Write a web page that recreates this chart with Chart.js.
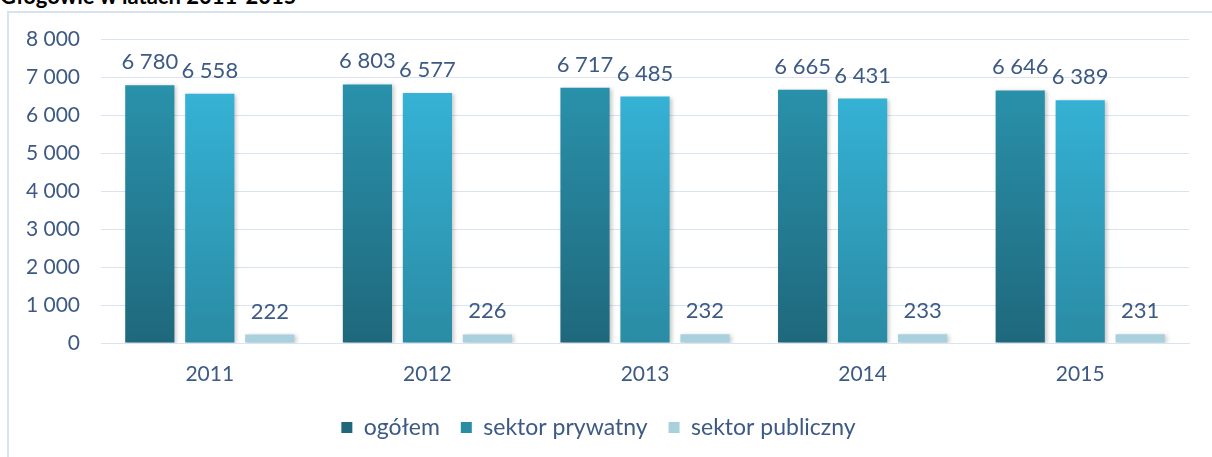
<!DOCTYPE html>
<html>
<head>
<meta charset="utf-8">
<script src="https://cdn.jsdelivr.net/npm/chart.js@4"></script>
<style>
  html, body { margin: 0; padding: 0; background: #fff; overflow: hidden; }
  body { width: 1212px; height: 457px; position: relative; }
  .title { position: absolute; left: 0; top: -15px; font: bold 22px Lato, sans-serif; line-height: 21px; color: #000; white-space: nowrap; }
  .frame { position: absolute; left: 7px; top: 11px; width: 1300px; height: 600px; border: 2px solid #d6e3f3; }
  #wrap { position: absolute; left: 0; top: 0; width: 1212px; height: 457px; }
</style>
</head>
<body>
<div class="title">Głogowie w latach 2011-2015</div>
<div class="frame"></div>
<div id="wrap"><canvas id="myChart" width="1212" height="457"></canvas></div>
<script>
const years = ['2011', '2012', '2013', '2014', '2015']
const ogolem = [6780, 6803, 6717, 6665, 6646]
const prywatny = [6558, 6577, 6485, 6431, 6389]
const publiczny = [222, 226, 232, 233, 231]
const yTicks = [0, 1000, 2000, 3000, 4000, 5000, 6000, 7000, 8000]

const textColor = '#3d5a84'
const fontName = 'Lato'
const ctx = document.getElementById('myChart');

function fmt(v){
  return String(v).replace(/\B(?=(\d{3})+(?!\d))/g, ' ')
}

// gradient over the chart area, dark at the bottom
function grad(bottomCol, topCol){
  return (c) => {
    const area = c.chart.chartArea
    if(!area){return topCol}
    const g = c.chart.ctx.createLinearGradient(0, area.bottom, 0, area.top + 30)
    g.addColorStop(0, bottomCol)
    g.addColorStop(1, topCol)
    return g
  }
}

const shadow = {
  id: 'shadow',
  beforeDatasetsDraw(chart){
    const c = chart.ctx
    c.save()
    c.shadowColor = 'rgba(0,0,0,0.22)'
    c.shadowBlur = 4
    c.shadowOffsetX = 2
    c.shadowOffsetY = 1
  },
  afterDatasetsDraw(chart){
    chart.ctx.restore()
  }
}

const valueLabels = {
  id: 'valueLabels',
  afterDatasetsDraw(chart){
    const c = chart.ctx
    c.save()
    c.shadowColor = 'transparent'
    c.fillStyle = textColor
    c.font = '22px ' + fontName
    c.textAlign = 'center'
    c.textBaseline = 'alphabetic'
    chart.data.datasets.forEach((ds, i) => {
      chart.getDatasetMeta(i).data.forEach((bar, j) => {
        c.fillText(fmt(ds.data[j]), bar.x, bar.y - 16)
      })
    })
    c.restore()
  }
}

new Chart(ctx, {
  type: 'bar',
  data: {
    labels: years,
    datasets: [
      {
        label: 'ogółem',
        data: ogolem,
        backgroundColor: grad('#1f687c', '#2a94ae'),
        borderWidth: 0
      },
      {
        label: 'sektor prywatny',
        data: prywatny,
        backgroundColor: grad('#2a8ba4', '#36b6da'),
        borderWidth: 0
      },
      {
        label: 'sektor publiczny',
        data: publiczny,
        backgroundColor: '#a8d0dd',
        borderWidth: 0
      }
    ]
  },
  options: {
    responsive: false,
    animation: false,
    devicePixelRatio: 1,
    layout: { padding: { left: 8, right: 23, top: 39, bottom: 8 } },
    datasets: {
      bar: { categoryPercentage: 0.827, barPercentage: 0.82 }
    },
    plugins: {
      tooltip: { enabled: false },
      legend: {
        position: 'bottom',
        labels: {
          color: textColor,
          font: { family: fontName, size: 23 },
          boxWidth: 11,
          boxHeight: 11,
          padding: 21
        }
      }
    },
    scales: {
      x: {
        grid: { display: false, drawTicks: false },
        border: { display: true, color: '#d9e3f1', width: 1 },
        ticks: { color: textColor, font: { family: fontName, size: 21 }, padding: 19, maxRotation: 0 },
        afterFit(s){ s.height = 52 }
      },
      y: {
        min: 0,
        max: 8000,
        afterBuildTicks(s){ s.ticks = yTicks.map(v => ({ value: v })) },
        grid: { color: '#d9e3f1', lineWidth: 1, drawTicks: false },
        border: { display: false },
        ticks: {
          color: textColor,
          font: { family: fontName, size: 21 },
          padding: 21,
          callback: (v) => fmt(v)
        },
        afterFit(s){ s.width = 93 }
      }
    }
  },
  plugins: [shadow, valueLabels]
})
</script>
</body>
</html>
